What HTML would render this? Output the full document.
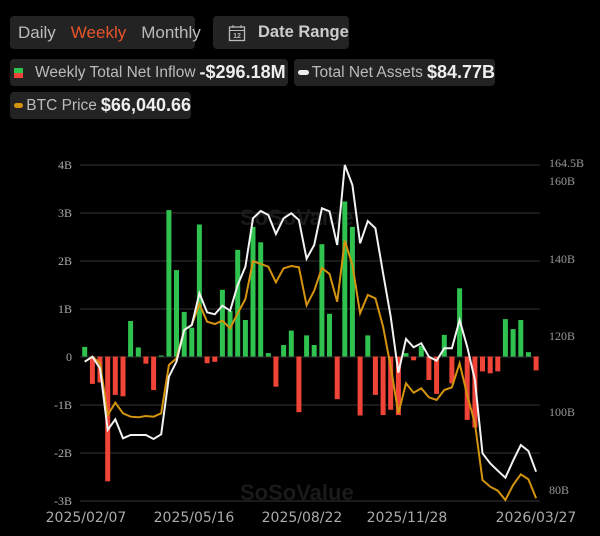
<!DOCTYPE html>
<html><head><meta charset="utf-8"><style>
body{margin:0;background:#000;width:600px;height:536px;overflow:hidden;font-family:"Liberation Sans",sans-serif;color:#bbb;position:relative}
.pill{position:absolute;background:#232323;border-radius:4px;display:flex;align-items:center;white-space:nowrap}
.v{color:#eee;font-weight:bold;font-size:18px;margin-left:4px}
</style></head><body>
<div class="pill" style="left:10px;top:16px;width:185px;height:33px;font-size:17px"><span style="margin-left:8px">Daily</span><span style="margin-left:15px;color:#e8542a">Weekly</span><span style="margin-left:15px">Monthly</span></div>
<div class="pill" style="left:213px;top:16px;width:136px;height:33px;font-size:16.5px;font-weight:bold;color:#ccc">
<svg width="18" height="18" style="margin-left:15px" viewBox="0 0 18 18"><rect x="1.5" y="3" width="15" height="13.5" fill="none" stroke="#bbb" stroke-width="1.3"/><line x1="1.5" y1="6.5" x2="16.5" y2="6.5" stroke="#bbb"/><line x1="5" y1="1" x2="5" y2="4" stroke="#bbb"/><line x1="13" y1="1" x2="13" y2="4" stroke="#bbb"/><text x="9" y="14" font-size="7" fill="#bbb" text-anchor="middle" font-family="Liberation Sans">12</text></svg>
<span style="margin-left:12px">Date Range</span></div>
<div class="pill" style="left:10px;top:59px;width:278px;height:27px;font-size:15.5px"><span style="margin-left:4px;display:inline-block;width:9px;height:10px;background:linear-gradient(#2fc24f 50%,#f04438 50%)"></span><span style="margin-left:12px">Weekly Total Net Inflow</span><span class="v" style="margin-left:4px">-$296.18M</span></div>
<div class="pill" style="left:294px;top:59px;width:201px;height:27px;font-size:15.5px"><span style="margin-left:4px;display:inline-block;width:12px;height:5px;border-radius:3px;background:#eee"></span><span style="margin-left:3px">Total Net Assets</span><span class="v">$84.77B</span></div>
<div class="pill" style="left:10px;top:92px;width:181px;height:27px;font-size:15.5px"><span style="margin-left:4px;display:inline-block;width:12px;height:5px;border-radius:3px;background:#d4940f"></span><span style="margin-left:3px">BTC Price</span><span class="v">$66,040.66</span></div>
<svg id="c" width="600" height="536" style="position:absolute;left:0;top:0" font-family="Liberation Serif, serif"></svg>
<script>
var s='';
var L=['4B','3B','2B','1B','0','-1B','-2B','-3B'];
for(var k=0;k<8;k++){var y=165+k*48;s+='<line x1="80" x2="540" y1="'+y+'" y2="'+y+'" stroke="#333" stroke-width="1"/>';s+='<text x="72" y="'+(y+4)+'" fill="#aaa" font-size="12" text-anchor="end">'+L[k]+'</text>';}
var R=[['164.5B',167],['160B',185],['140B',263],['120B',340],['100B',416],['80B',494]];
R.forEach(function(r){s+='<text x="549" y="'+r[1]+'" fill="#999" font-size="12">'+r[0]+'</text>';});
s+='<text x="240" y="225" fill="#1a1a1a" font-size="22" font-weight="bold" font-family="Liberation Sans">SoSoValue</text>';
s+='<text x="240" y="500" fill="#1a1a1a" font-size="22" font-weight="bold" font-family="Liberation Sans">SoSoValue</text>';
var b=[0.2,-0.57,-0.54,-2.6,-0.8,-0.83,0.74,0.19,-0.15,-0.7,0.02,3.05,1.8,0.93,0.6,2.75,-0.14,-0.11,1.39,0.95,2.22,0.76,2.7,2.38,0.07,-0.63,0.24,0.54,-1.16,0.44,0.24,2.34,0.89,-0.89,3.23,2.7,-1.23,0.44,-0.8,-1.22,-1.11,-1.22,0.07,-0.08,0.22,-0.49,-0.78,0.45,-0.56,1.42,-1.32,-1.48,-0.31,-0.35,-0.31,0.78,0.57,0.76,0.09,-0.29];
function X(i){return 84.7+i*7.65;}
b.forEach(function(v,i){var h=Math.abs(v)*48,y=v>0?356.5-h:356.5;s+='<rect x="'+(X(i)-2.5).toFixed(1)+'" y="'+y.toFixed(1)+'" width="5" height="'+Math.max(h,1).toFixed(1)+'" fill="'+(v>0?'#2fc24f':'#f04438')+'"/>';});
var w=[635,620,655,840,808,865,855,855,855,867,853,680,635,540,525,430,487,493,467,482,405,350,205,183,195,252,205,190,210,326,285,175,184,285,45,105,280,213,235,370,500,668,567,592,580,620,632,595,595,510,590,690,910,940,962,983,932,885,903,965];
var o=[635,620,640,795,758,790,800,802,798,800,790,645,625,540,525,462,515,522,512,535,490,447,333,342,350,397,355,348,352,466,422,354,372,455,272,345,490,435,445,530,650,790,700,728,715,742,750,720,712,640,735,820,990,1010,1022,1050,1005,973,988,1045];
function P(a){return a.map(function(z,i){return X(i).toFixed(1)+','+(150+z/3).toFixed(1);}).join(' ');}
s+='<polyline points="'+P(o)+'" fill="none" stroke="#d4940f" stroke-width="2"/>';
s+='<polyline points="'+P(w)+'" fill="none" stroke="#f2f2f2" stroke-width="2"/>';
var D=[['2025/02/07',86],['2025/05/16',194],['2025/08/22',302],['2025/11/28',407],['2026/03/27',536]];
D.forEach(function(d){s+='<text x="'+d[1]+'" y="522" fill="#aaa" font-size="14" text-anchor="middle" font-family="DejaVu Sans, sans-serif">'+d[0]+'</text>';});
document.getElementById('c').innerHTML=s;
</script>
</body></html>
